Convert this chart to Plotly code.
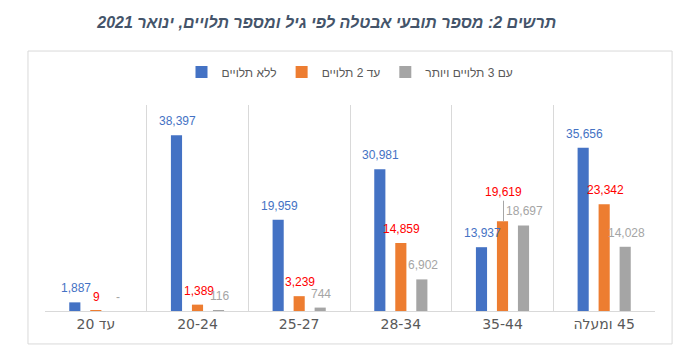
import plotly.graph_objects as go

RLM = "\u200f"
categories = ["עד 20", "20-24", "25-27", "28-34", "35-44", "45 ומעלה"]
series_names = ["ללא תלויים", "עד 2 תלויים", "עם 3 תלויים ויותר"]
no_dependents = [1887, 38397, 19959, 30981, 13937, 35656]
up_to_2 = [9, 1389, 3239, 14859, 19619, 23342]
three_plus = [0, 116, 744, 6902, 18697, 14028]

bar_colors = ["#4472C4", "#ED7D31", "#A5A5A5"]
label_colors = ["#4472C4", "#FF0000", "#A5A5A5"]
label_xshift = [-20, 1, 22]

FONT = "Liberation Sans"

# tick labels shown right-to-left
tick_text = [RLM + c + RLM for c in categories]

fig = go.Figure()
all_series = [no_dependents, up_to_2, three_plus]
for name, vals, col in zip(series_names, all_series, bar_colors):
    fig.add_trace(go.Bar(x=categories, y=vals, name=name, marker_color=col,
                         marker_line_width=0))

annotations = []
for si, vals in enumerate(all_series):
    for cat, v in zip(categories, vals):
        txt = f"{v:,}" if v > 0 else "-"
        if si == 1 and cat == "35-44":
            annotations.append(dict(x=cat, y=v, xref="x", yref="y", text=txt,
                                    showarrow=True, arrowhead=0, arrowwidth=1,
                                    arrowcolor="#A6A6A6", ax=0, ay=-29,
                                    xshift=label_xshift[si],
                                    font=dict(family=FONT, size=12, color=label_colors[si])))
        else:
            annotations.append(dict(x=cat, y=v, xref="x", yref="y", text=txt,
                                    showarrow=False, yanchor="middle", xanchor="center",
                                    yshift=14, xshift=label_xshift[si],
                                    font=dict(family=FONT, size=12, color=label_colors[si])))

title_text = "תרשים 2: מספר תובעי אבטלה לפי גיל ומספר תלויים, ינואר 2021"

fig.update_layout(
    width=684, height=356,
    margin=dict(l=37, r=37, t=97, b=53),
    paper_bgcolor="white", plot_bgcolor="white",
    barmode="group", bargap=0.38, bargroupgap=0.47,
    title=dict(text="<b><i>" + RLM + title_text + RLM + "</i></b>",
               x=0.466, xanchor="center", y=0.9607, yanchor="middle",
               font=dict(family=FONT, size=16, color="#44546A")),
    legend=dict(orientation="h", x=0.5, xanchor="center", y=1.16, yanchor="middle",
                font=dict(family=FONT, size=12, color="#595959"),
                bgcolor="rgba(0,0,0,0)"),
    xaxis=dict(type="category", showgrid=True, tickson="boundaries",
               gridcolor="#D9D9D9", gridwidth=1, ticks="",
               showline=True, linecolor="#D9D9D9", linewidth=1,
               tickmode="array", tickvals=categories, ticktext=tick_text,
               tickfont=dict(family="DejaVu Sans", size=14, color="#595959"),
               range=[-0.5, 5.5]),
    yaxis=dict(range=[0, 45000], showgrid=False, showticklabels=False,
               zeroline=False, showline=False, ticks=""),
    annotations=annotations,
    shapes=[dict(type="rect", xref="paper", yref="paper",
                 x0=-0.0279, x1=1.028, y0=-0.160, y1=1.262,
                 line=dict(color="#D9D9D9", width=1), fillcolor="rgba(0,0,0,0)")],
    showlegend=True,
)

fig.write_html("out.html")
